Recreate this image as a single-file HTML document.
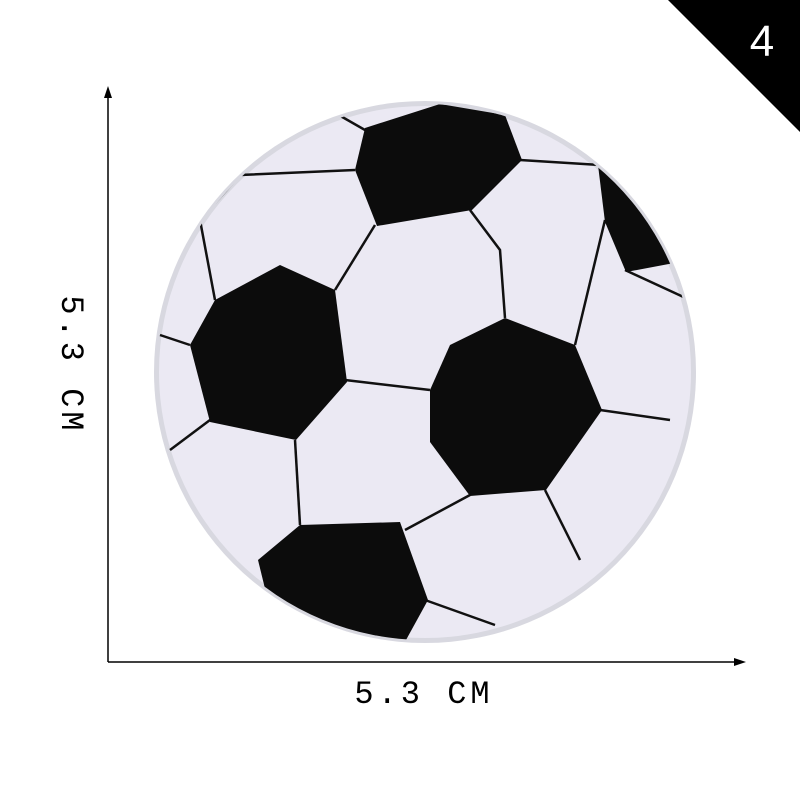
<!DOCTYPE html>
<html><head><meta charset="utf-8"><style>
html,body{margin:0;padding:0;background:#fff;width:800px;height:800px;overflow:hidden}
svg{display:block}
</style></head><body>
<svg width="800" height="800" viewBox="0 0 800 800">
  <polygon points="668,0 800,0 800,132" fill="#000"/>
  <text x="762" y="56" fill="#fff" font-family="Liberation Sans, sans-serif" font-size="44" text-anchor="middle">4</text>

  <g>
    <line x1="108" y1="96" x2="108" y2="662" stroke="#000" stroke-width="1.5"/>
    <polygon points="108,86 104,98 112,98" fill="#000"/>
  </g>
  <g>
    <line x1="108" y1="662" x2="736" y2="662" stroke="#000" stroke-width="1.5"/>
    <polygon points="746,662 734,658 734,666" fill="#000"/>
  </g>
  <text transform="translate(62,365) rotate(90)" font-family="Liberation Mono, monospace" font-size="32" text-anchor="middle" letter-spacing="4">5.3 CM</text>
  <text x="424" y="703" font-family="Liberation Mono, monospace" font-size="32" text-anchor="middle" letter-spacing="4">5.3 CM</text>

  <defs><clipPath id="ball"><circle cx="425" cy="372" r="268"/></clipPath></defs>
  <circle cx="425" cy="372" r="271" fill="#d8d8e0"/>
  <circle cx="425" cy="372" r="266" fill="#ebe9f3"/>
  <g clip-path="url(#ball)">
    <g fill="none" stroke="#111" stroke-width="2.5">
      <path d="M355,170 L240,175 L200,220 L215,300"/>
      <path d="M375,225 L335,290"/>
      <path d="M470,210 L500,250 L505,318"/>
      <path d="M520,160 L600,165"/>
      <path d="M605,220 L575,345"/>
      <path d="M625,270 L690,300"/>
      <path d="M190,345 L160,335"/>
      <path d="M345,380 L430,390"/>
      <path d="M295,440 L300,525"/>
      <path d="M210,420 L170,450"/>
      <path d="M470,495 L405,530"/>
      <path d="M545,490 L580,560"/>
      <path d="M600,410 L670,420"/>
      <path d="M425,600 L495,625"/>
      <path d="M365,130 L330,110"/>
      <path d="M500,115 L520,100"/>
    </g>
    <g fill="#0c0c0c">
      <polygon points="365,128 440,104 505,115 522,160 472,210 377,226 355,170"/>
      <polygon points="598,165 650,175 700,210 690,260 626,272 605,222"/>
      <polygon points="215,300 280,265 335,290 347,382 296,440 210,422 190,345"/>
      <polygon points="450,345 505,318 575,345 602,410 546,490 470,496 430,442 430,390"/>
      <polygon points="258,560 300,525 400,522 428,600 395,660 280,650"/>
    </g>
  </g>
</svg>
</body></html>
